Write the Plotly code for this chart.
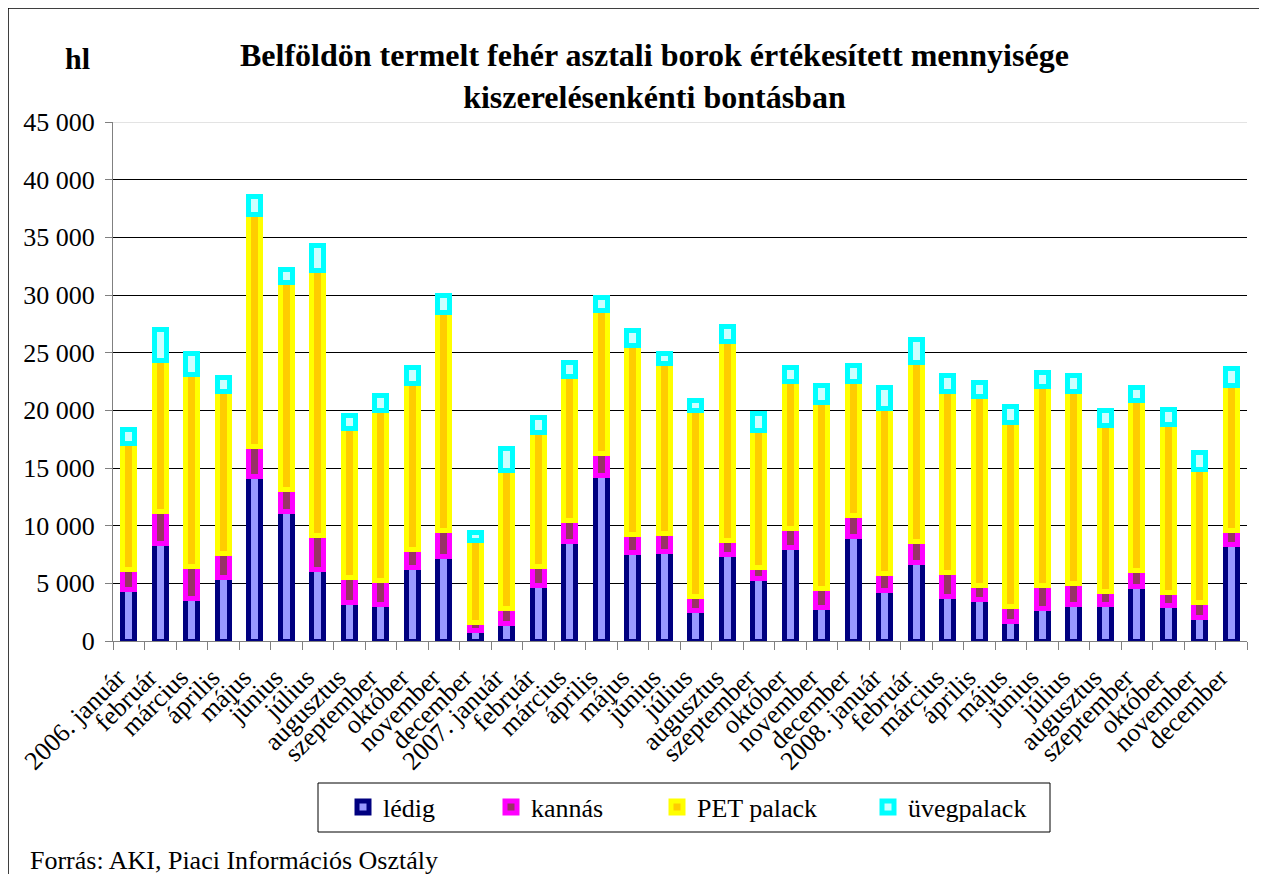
import plotly.graph_objects as go

months = ["2006. január", "február", "március", "április", "május", "június",
          "július", "augusztus", "szeptember", "október", "november", "december",
          "2007. január", "február", "március", "április", "május", "június",
          "július", "augusztus", "szeptember", "október", "november", "december",
          "2008. január", "február", "március", "április", "május", "június",
          "július", "augusztus", "szeptember", "október", "november", "december"]

ledig = [4450, 8450, 3670, 5500, 14290, 11250, 6190, 3380, 3180, 6330, 7350, 925,
         1500, 4770, 8650, 14370, 7640, 7720, 2660, 7520, 5410, 8100, 2890, 9020,
         4400, 6850, 3880, 3620, 1650, 2810, 3180, 3150, 4690, 3090, 2080, 8360]
kannas = [1740, 2800, 2750, 2080, 2540, 1880, 2980, 2110, 2080, 1590, 2260, 720,
          1300, 1710, 1820, 1880, 1620, 1590, 1160, 1210, 930, 1650, 1650, 1880,
          1440, 1740, 2020, 1210, 1300, 2020, 1790, 1160, 1450, 1100, 1220, 1240]
pet = [10930, 13100, 16690, 14030, 20160, 17930, 22930, 12930, 14690, 14400, 18860, 7030,
       12000, 11570, 12440, 12380, 16400, 14750, 16140, 17210, 11890, 12780, 16110, 11570,
       14320, 15530, 15700, 16400, 15990, 17210, 16630, 14400, 14690, 14610, 11570, 12580]
uveg = [1210, 2660, 1820, 1210, 1590, 1160, 2230, 1160, 1300, 1360, 1500, 720,
        1880, 1360, 1240, 1190, 1240, 870, 870, 1300, 1500, 1190, 1480, 1450,
        1820, 2030, 1450, 1220, 1420, 1240, 1420, 1300, 1160, 1270, 1480, 1450]

series_names = ["lédig", "kannás", "PET palack", "üvegpalack"]

# page body margin offsets the figure by 8 px; compensate
OFF = 8
W, H = 1267 - OFF, 874 - OFF
# target plot area in window pixels: x 113..1247, y 122..641
L, R, T, B = 113 - OFF, 1267 - 1247, 122 - OFF, 874 - 641
PW = W - L - R
PH = H - T - B


def px(x):
    return (x - OFF - L) / PW


def py(y):
    return (T + PH - (y - OFF)) / PH


FONT = "Liberation Serif, Times New Roman, Times, serif"

styles = [
    ("#9999FF", "#000080", "legend", 365),
    ("#993366", "#FF00FF", "legend2", 513),
    ("#FFCC00", "#FFFF00", "legend3", 679),
    ("#CCFFFF", "#00FFFF", "legend4", 890),
]
values = [ledig, kannas, pet, uveg]

xs = list(range(len(months)))
fig = go.Figure()
for name, vals, (fill, edge, lg, _) in zip(series_names, values, styles):
    fig.add_trace(go.Bar(
        x=xs, y=vals, name=name, legend=lg, width=0.39,
        marker=dict(color=fill, line=dict(color=edge, width=5)),
    ))

legend_common = dict(orientation="h", bgcolor="rgba(0,0,0,0)", borderwidth=0,
                     font=dict(family=FONT, size=26, color="black"),
                     yanchor="middle", y=py(807), xanchor="left")
layout_legends = {}
for (fill, edge, lg, cx) in styles:
    layout_legends[lg] = dict(legend_common, x=px(cx - 22))

fig.update_layout(
    width=W, height=H,
    margin=dict(l=L, r=R, t=T, b=B),
    barmode="stack",
    separators=", ",
    paper_bgcolor="white", plot_bgcolor="white",
    font=dict(family=FONT, size=26, color="black"),
    showlegend=True,
    **layout_legends,
    xaxis=dict(
        range=[-0.5, len(months) - 0.5],
        tickmode="array", tickvals=xs, ticktext=months,
        tickangle=-45, ticks="", showgrid=False, zeroline=False,
        showline=True, linecolor="#808080", linewidth=1,
        ticklabelstandoff=10, ticklabelshift=-11,
        tickfont=dict(family=FONT, size=26, color="black"),
        minor=dict(tickvals=[i - 0.5 for i in range(len(months) + 1)],
                   ticks="outside", ticklen=8, tickcolor="#808080",
                   tickwidth=1, showgrid=False),
    ),
    yaxis=dict(
        range=[0, 45000], dtick=5000, tickformat=",d",
        showgrid=True, gridcolor="#000000", gridwidth=1, zeroline=False,
        showline=True, linecolor="#808080", linewidth=1,
        ticks="outside", ticklen=7, tickcolor="#808080",
        ticklabelstandoff=5,
        tickfont=dict(family=FONT, size=26, color="black"),
    ),
    annotations=[
        dict(text="<b>Belföldön termelt fehér asztali borok értékesített mennyisége<br>"
                  "kiszerelésenkénti bontásban</b>",
             xref="paper", yref="paper", x=px(654), y=py(35),
             xanchor="center", yanchor="top", showarrow=False,
             font=dict(family=FONT, size=32, color="black")),
        dict(text="<b>hl</b>", xref="paper", yref="paper", x=px(77), y=py(58),
             xanchor="center", yanchor="middle", showarrow=False,
             font=dict(family=FONT, size=30, color="black")),
        dict(text="Forrás: AKI, Piaci Információs Osztály", xref="paper", yref="paper",
             x=px(28), y=py(861), xanchor="left", yanchor="middle", showarrow=False,
             font=dict(family=FONT, size=26, color="black")),
    ],
    shapes=[
        dict(type="line", xref="paper", yref="y", x0=0, x1=1, y0=45000, y1=45000,
             line=dict(color="#E3E3E3", width=2), layer="above"),
        dict(type="rect", xref="paper", yref="paper",
             x0=px(318), x1=px(1050), y0=py(832), y1=py(783),
             line=dict(color="black", width=1), fillcolor="rgba(0,0,0,0)"),
        dict(type="rect", xref="paper", yref="paper",
             x0=px(8), x1=px(1290), y0=py(900), y1=py(8),
             line=dict(color="black", width=1.5), fillcolor="rgba(0,0,0,0)"),
    ],
)

fig.write_html("out.html")
